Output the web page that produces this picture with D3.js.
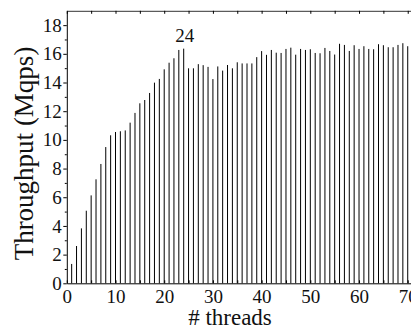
<!DOCTYPE html>
<html>
<head>
<meta charset="utf-8">
<script src="https://cdn.jsdelivr.net/npm/d3@7"></script>
<style>
  html, body { margin: 0; padding: 0; background: #fff; overflow: hidden; }
  text { font-family: "Liberation Serif", "Times New Roman", serif; fill: #111; }
</style>
</head>
<body>
<figure id="chart" style="margin:0"></figure>
<script>
// threads 1..70 and measured throughput (Mqps)
const threads = d3.range(1, 71);
const throughput = [
  1.35, 2.6, 3.83, 5.06, 6.13, 7.25, 8.32, 9.5, 10.32, 10.55,
  10.6, 10.66, 11.2, 11.88, 12.55, 12.78, 13.27, 13.99, 14.25, 14.92,
  15.38, 15.69, 16.27, 16.36, 14.99, 14.99, 15.28, 15.21, 15.09, 14.24,
  15.12, 14.83, 15.22, 14.99, 15.41, 15.33, 15.33, 15.33, 15.77, 16.19,
  15.93, 16.27, 16.08, 16.06, 16.34, 16.43, 15.94, 16.34, 16.27, 16.32,
  16.06, 16.04, 16.41, 16.2, 15.95, 16.7, 16.62, 16.2, 16.6, 16.34,
  16.53, 16.34, 16.32, 16.67, 16.6, 16.46, 16.46, 16.62, 16.74, 16.53
];
const xTickLabels = [0, 10, 20, 30, 40, 50, 60, 70];
const yTickLabels = [0, 2, 4, 6, 8, 10, 12, 14, 16, 18];
const annotated = [24];

const width = 411;
const height = 329;
const mLeft = 66.8, mRight = 412.6, mTop = 10.8, mBottom = 283.3;
const serif = "'Liberation Serif', 'Times New Roman', serif";

const svg = d3.select("figure#chart")
  .append("svg")
  .attr("width", width)
  .attr("height", height)
  .attr("viewBox", "0 0 " + width + " " + height);

const x = d3.scaleLinear().domain([0, 71]).range([mLeft, mRight]);
const y = d3.scaleLinear().domain([0, 19]).range([mBottom, mTop]);

const data = threads.map((t, i) => ({ t: t, v: throughput[i] }));

// bars drawn as thin lines
svg.append("g")
  .selectAll("line")
  .data(data)
  .join("line")
  .attr("x1", d => x(d.t))
  .attr("x2", d => x(d.t))
  .attr("y1", y(0))
  .attr("y2", d => y(d.v))
  .attr("stroke", "#000")
  .attr("stroke-width", 1);

// top frame with inward ticks
const topAxis = svg.append("g")
  .attr("transform", "translate(0," + mTop + ")")
  .call(d3.axisTop(x).tickValues(d3.range(0, 71, 5)).tickSize(-3).tickSizeOuter(0).tickFormat(""));
topAxis.select(".domain").attr("stroke", "#333");

// bottom axis: inward ticks every 5, labels every 10
svg.append("g")
  .attr("transform", "translate(0," + mBottom + ")")
  .call(d3.axisBottom(x).tickValues(d3.range(0, 71, 5)).tickSize(-3).tickSizeOuter(0).tickFormat(""));

svg.append("g")
  .attr("transform", "translate(0," + mBottom + ")")
  .attr("font-family", serif)
  .call(d3.axisBottom(x).tickValues(xTickLabels).tickSize(0).tickPadding(6.5))
  .call(g => g.select(".domain").remove())
  .selectAll("text")
  .style("font-family", serif)
  .style("font-size", "19px");

// left axis: minor ticks at odd values, labelled major ticks at even ones
svg.append("g")
  .attr("transform", "translate(" + mLeft + ",0)")
  .call(d3.axisLeft(y).tickValues(d3.range(1, 19, 2)).tickSize(2).tickSizeOuter(0).tickFormat(""))
  .call(g => g.select(".domain").remove());

svg.append("g")
  .attr("transform", "translate(" + mLeft + ",0)")
  .attr("font-family", serif)
  .call(d3.axisLeft(y).tickValues(yTickLabels).tickSize(3.5).tickPadding(1.5).tickSizeOuter(0))
  .selectAll("text")
  .style("font-family", serif)
  .style("font-size", "19px");

// annotation above thread 24
svg.append("g")
  .selectAll("text")
  .data(data.filter(d => annotated.includes(d.t)))
  .join("text")
  .attr("x", d => x(d.t) + 1)
  .attr("y", d => y(d.v) - 7)
  .attr("text-anchor", "middle")
  .style("font-family", serif)
  .style("font-size", "19px")
  .text(d => d.t);

// axis titles
svg.append("text")
  .attr("x", 230)
  .attr("y", 325)
  .attr("text-anchor", "middle")
  .style("font-family", serif)
  .style("font-size", "23px")
  .text("# threads");

svg.append("text")
  .attr("transform", "translate(33,153.5) rotate(-90)")
  .attr("text-anchor", "middle")
  .style("font-family", serif)
  .style("font-size", "27px")
  .text("Throughput (Mqps)");
</script>
</body>
</html>
